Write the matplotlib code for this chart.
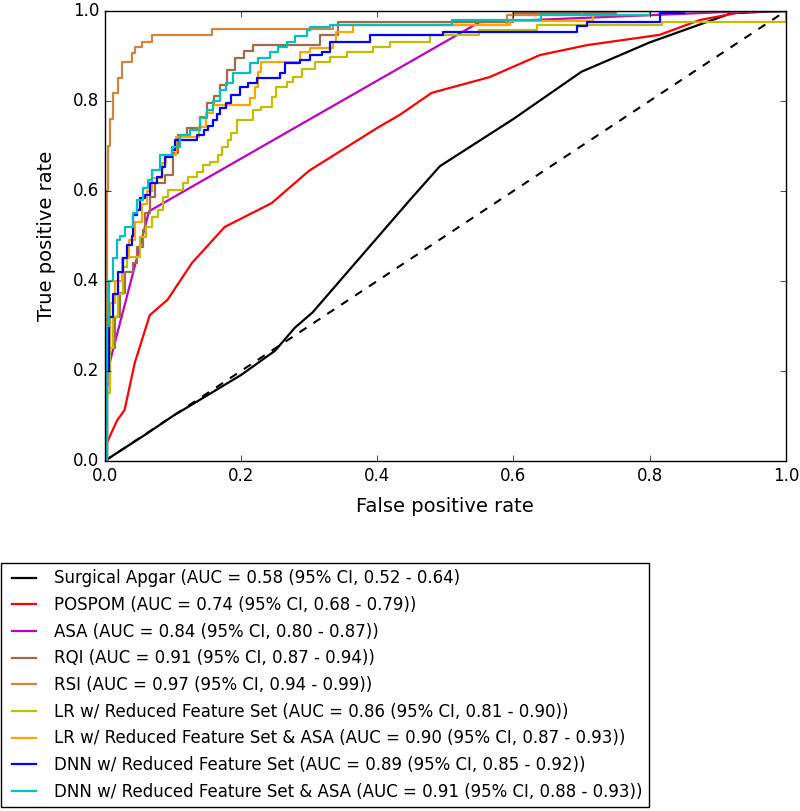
import numpy as np
import matplotlib
matplotlib.use('Agg')
import matplotlib.pyplot as plt

plt.style.use('classic')

# ROC curves (fpr, tpr)
apgar_fpr = [0, 0.02, 0.059, 0.10, 0.132, 0.20, 0.25, 0.279, 0.305, 0.448, 0.492, 0.60, 0.70, 0.80, 0.92, 1.0]
apgar_tpr = [0, 0.02, 0.058, 0.10, 0.129, 0.191, 0.245, 0.296, 0.33, 0.58, 0.655, 0.76, 0.865, 0.93, 0.995, 1.0]

pospom_fpr = [0, 0.0, 0.018, 0.029, 0.044, 0.066, 0.092, 0.128, 0.176, 0.245, 0.30, 0.40, 0.433, 0.48, 0.565, 0.639, 0.708, 0.815, 0.874, 0.937, 1.0]
pospom_tpr = [0, 0.03, 0.09, 0.113, 0.218, 0.324, 0.358, 0.44, 0.52, 0.573, 0.645, 0.74, 0.769, 0.818, 0.853, 0.902, 0.924, 0.947, 0.98, 0.998, 1.0]

asa_fpr = [0, 0.004, 0.065, 0.55, 0.95, 1.0]
asa_tpr = [0, 0.20, 0.555, 0.975, 1.0, 1.0]

rqi_fpr = [0, 0.003, 0.008, 0.015, 0.022, 0.029, 0.041, 0.047, 0.056, 0.059, 0.066, 0.073, 0.088, 0.10, 0.107,
           0.12, 0.14, 0.15, 0.16, 0.169, 0.179, 0.191, 0.205, 0.217, 0.316, 0.342, 0.60, 0.75, 1.0]
rqi_tpr = [0, 0.17, 0.25, 0.32, 0.373, 0.42, 0.44, 0.476, 0.513, 0.551, 0.587, 0.618, 0.636, 0.684, 0.724,
           0.74, 0.764, 0.796, 0.81, 0.835, 0.869, 0.896, 0.91, 0.924, 0.947, 0.976, 0.995, 1.0, 1.0]

rsi_fpr = [0, 0.001, 0.003, 0.005, 0.008, 0.012, 0.019, 0.025, 0.04, 0.044, 0.054, 0.069, 0.157, 0.335, 0.59, 0.70, 1.0]
rsi_tpr = [0, 0.30, 0.60, 0.70, 0.76, 0.818, 0.85, 0.887, 0.907, 0.92, 0.931, 0.947, 0.96, 0.969, 0.991, 1.0, 1.0]

lr_fpr = [0, 0.003, 0.008, 0.012, 0.02, 0.026, 0.032, 0.051, 0.06, 0.07, 0.078, 0.085, 0.093, 0.115, 0.122,
          0.135, 0.144, 0.154, 0.166, 0.172, 0.181, 0.186, 0.194, 0.217, 0.23, 0.245, 0.252, 0.267, 0.276,
          0.29, 0.308, 0.33, 0.355, 0.394, 0.419, 0.478, 0.55, 0.634, 0.818, 1.0]
lr_tpr = [0, 0.15, 0.25, 0.32, 0.37, 0.43, 0.453, 0.498, 0.52, 0.542, 0.558, 0.587, 0.602, 0.618, 0.631,
          0.642, 0.658, 0.664, 0.68, 0.698, 0.713, 0.729, 0.758, 0.78, 0.787, 0.809, 0.831, 0.842, 0.853,
          0.87, 0.887, 0.898, 0.909, 0.92, 0.931, 0.947, 0.958, 0.969, 0.976, 1.0]

lrasa_fpr = [0, 0.003, 0.008, 0.015, 0.025, 0.035, 0.045, 0.055, 0.062, 0.07, 0.084, 0.09, 0.105, 0.139, 0.149,
             0.159, 0.213, 0.22, 0.225, 0.23, 0.286, 0.301, 0.335, 0.34, 0.364, 0.595, 0.717, 0.80, 1.0]
lrasa_tpr = [0, 0.25, 0.35, 0.40, 0.451, 0.49, 0.53, 0.57, 0.60, 0.629, 0.662, 0.68, 0.72, 0.742, 0.773,
             0.791, 0.807, 0.831, 0.864, 0.887, 0.909, 0.918, 0.931, 0.953, 0.969, 0.978, 0.991, 1.0, 1.0]

dnn_fpr = [0, 0.003, 0.006, 0.012, 0.019, 0.026, 0.032, 0.04, 0.041, 0.048, 0.051, 0.059, 0.066, 0.076, 0.084,
           0.088, 0.098, 0.103, 0.135, 0.145, 0.152, 0.159, 0.165, 0.169, 0.178, 0.186, 0.198, 0.21, 0.223,
           0.257, 0.264, 0.286, 0.301, 0.319, 0.330, 0.389, 0.496, 0.693, 0.708, 0.815, 0.85, 1.0]
dnn_tpr = [0, 0.20, 0.32, 0.37, 0.42, 0.45, 0.48, 0.50, 0.547, 0.558, 0.584, 0.591, 0.618, 0.631, 0.653,
           0.676, 0.69, 0.713, 0.724, 0.735, 0.745, 0.758, 0.77, 0.784, 0.795, 0.813, 0.831, 0.84, 0.851,
           0.862, 0.884, 0.891, 0.902, 0.909, 0.931, 0.947, 0.953, 0.967, 0.976, 0.995, 1.0, 1.0]

dnnasa_fpr = [0, 0.003, 0.006, 0.012, 0.018, 0.022, 0.03, 0.041, 0.048, 0.056, 0.063, 0.07, 0.081, 0.098, 0.11,
              0.125, 0.14, 0.15, 0.159, 0.169, 0.178, 0.188, 0.213, 0.225, 0.242, 0.255, 0.267, 0.28, 0.297,
              0.301, 0.33, 0.51, 0.64, 0.80, 1.0]
dnnasa_tpr = [0, 0.30, 0.40, 0.45, 0.49, 0.50, 0.52, 0.551, 0.58, 0.607, 0.625, 0.647, 0.68, 0.698, 0.724,
              0.735, 0.762, 0.78, 0.80, 0.824, 0.84, 0.862, 0.884, 0.895, 0.909, 0.92, 0.931, 0.945, 0.958,
              0.964, 0.969, 0.98, 0.991, 1.0, 1.0]

labels = [
    'Surgical Apgar (AUC = 0.58 (95% CI, 0.52 - 0.64)',
    'POSPOM (AUC = 0.74 (95% CI, 0.68 - 0.79))',
    'ASA (AUC = 0.84 (95% CI, 0.80 - 0.87))',
    'RQI (AUC = 0.91 (95% CI, 0.87 - 0.94))',
    'RSI (AUC = 0.97 (95% CI, 0.94 - 0.99))',
    'LR w/ Reduced Feature Set (AUC = 0.86 (95% CI, 0.81 - 0.90))',
    'LR w/ Reduced Feature Set & ASA (AUC = 0.90 (95% CI, 0.87 - 0.93))',
    'DNN w/ Reduced Feature Set (AUC = 0.89 (95% CI, 0.85 - 0.92))',
    'DNN w/ Reduced Feature Set & ASA (AUC = 0.91 (95% CI, 0.88 - 0.93))',
]

fig = plt.figure(figsize=(8, 8.11), dpi=100, facecolor='white')
ax = fig.add_axes([0.131, 0.4316, 0.8513, 0.5549])

lw = 1.6
ax.plot([0, 1], [0, 1], 'k--', lw=1.5)

# smooth-ish curves (few thresholds)
ax.plot(apgar_fpr, apgar_tpr, color='k', lw=lw, label=labels[0])
ax.plot(pospom_fpr, pospom_tpr, color='r', lw=lw, label=labels[1])
ax.plot(asa_fpr, asa_tpr, color='m', lw=lw, label=labels[2])

# step curves
ax.plot(rqi_fpr, rqi_tpr, color='#a06a4c', lw=lw, drawstyle='steps-post', label=labels[3])
ax.plot(rsi_fpr, rsi_tpr, color='peru', lw=lw, drawstyle='steps-post', label=labels[4])
ax.plot(lr_fpr, lr_tpr, color='y', lw=lw, drawstyle='steps-post', label=labels[5])
ax.plot(lrasa_fpr, lrasa_tpr, color='orange', lw=lw, drawstyle='steps-post', label=labels[6])
ax.plot(dnn_fpr, dnn_tpr, color='b', lw=lw, drawstyle='steps-post', label=labels[7])
ax.plot(dnnasa_fpr, dnnasa_tpr, color='c', lw=lw, drawstyle='steps-post', label=labels[8])

ax.set_xlim(0, 1)
ax.set_ylim(0, 1)
ax.set_xlabel('False positive rate', fontsize=14, labelpad=9)
ax.set_ylabel('True positive rate', fontsize=14, labelpad=12)
ax.tick_params(labelsize=12)

leg = fig.legend(*ax.get_legend_handles_labels(), loc='upper left',
                 bbox_to_anchor=(-0.0095, 0.3164), bbox_transform=fig.transFigure,
                 fontsize=12, frameon=True, fancybox=False, handlelength=2,
                 labelspacing=0.52, borderpad=0.4, numpoints=2)
leg.get_frame().set_edgecolor('black')

fig.savefig('out.png', dpi=100, facecolor='white')
